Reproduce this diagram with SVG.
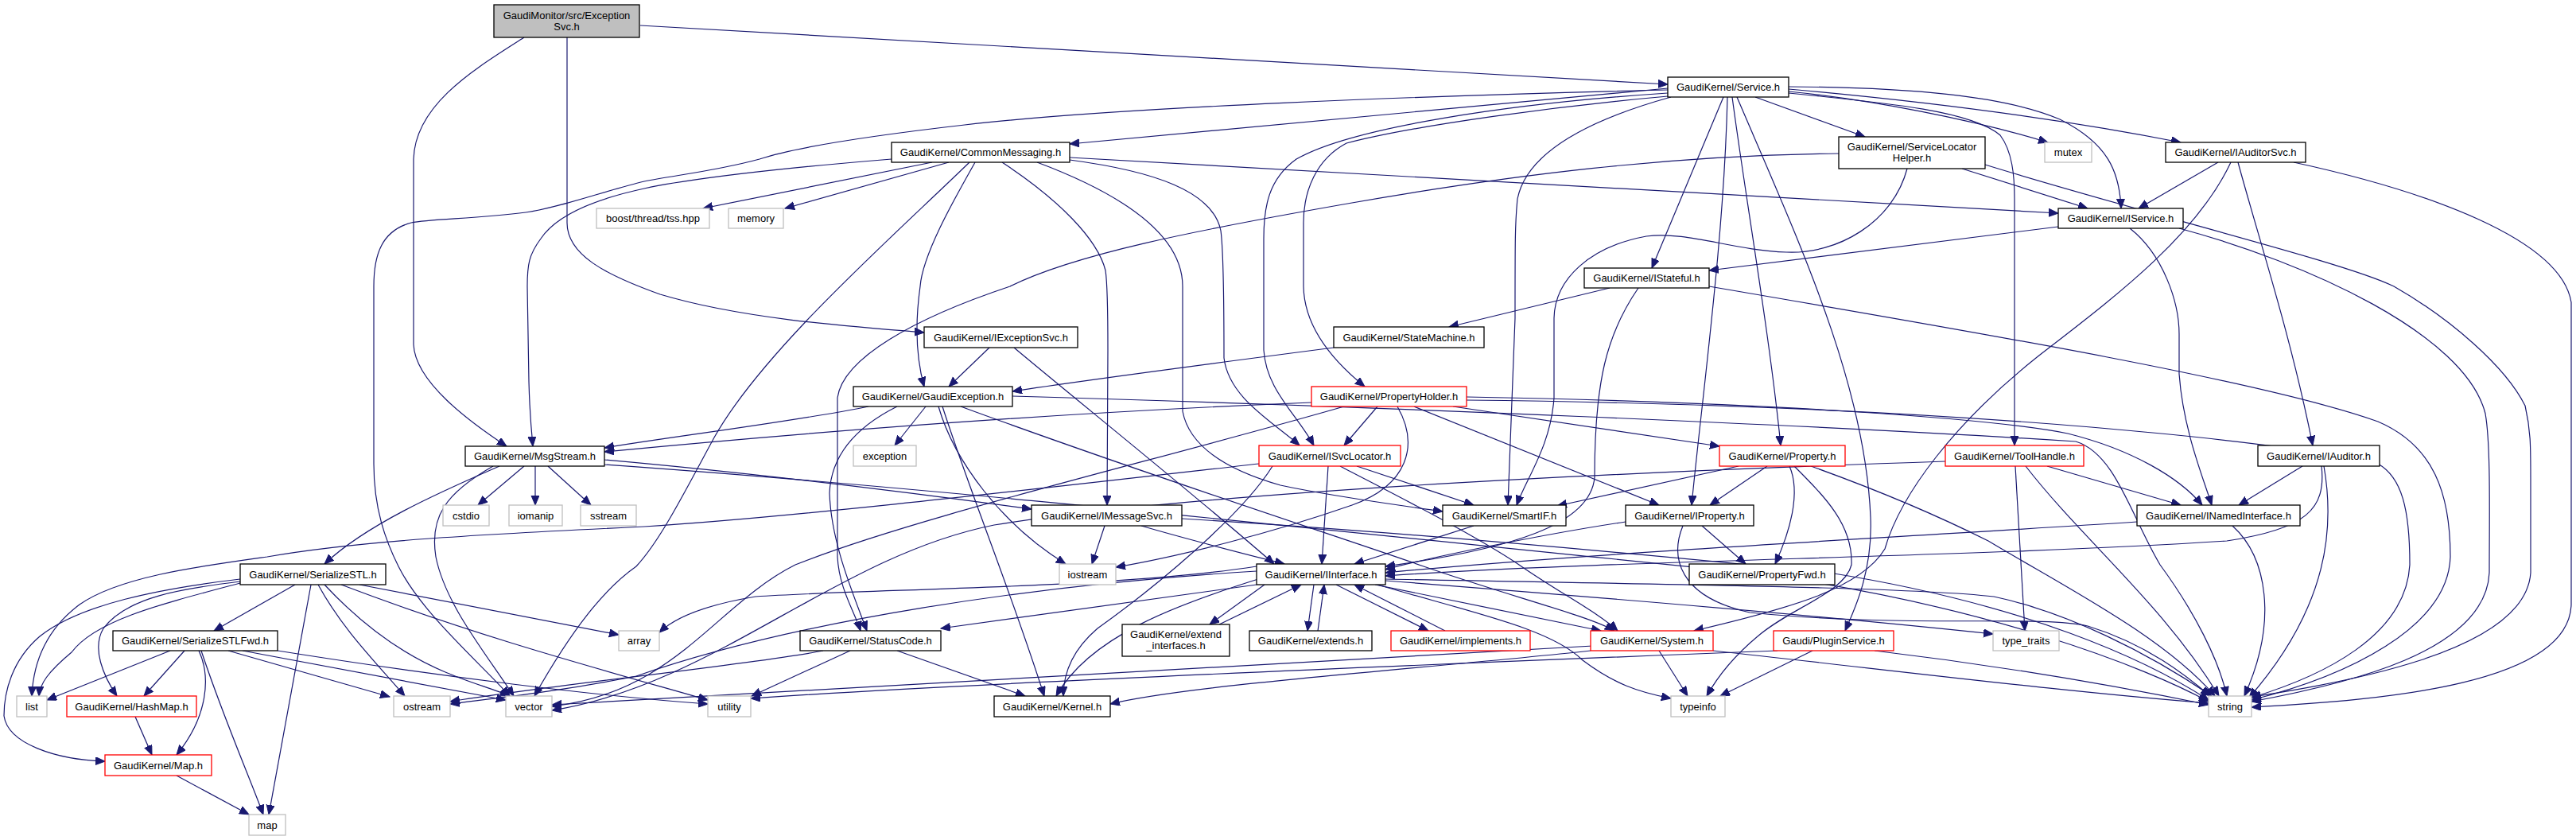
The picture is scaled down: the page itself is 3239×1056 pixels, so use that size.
<svg xmlns="http://www.w3.org/2000/svg" width="3239" height="1056" viewBox="0 0 3239 1056">
<style>
rect{fill:#fff;stroke:#000;stroke-width:1.3}
.r rect{stroke:#ff0000}
.g rect{stroke:#bfbfbf}
.m rect{fill:#bfbfbf}
text{font-family:"Liberation Sans",Arial,sans-serif;font-size:13px;text-anchor:middle;fill:#000}
#edges path{fill:none;stroke:#191970;stroke-width:1.2;marker-end:url(#a)}
</style>
<defs>
<marker id="a" markerUnits="userSpaceOnUse" markerWidth="13" markerHeight="11" refX="12" refY="5" orient="auto"><path d="M0,0 L12,5 L0,10 z" fill="#191970" stroke="#191970" stroke-width="1"/></marker>
</defs>
<rect x="0" y="0" width="3239" height="1056" style="fill:#fff;stroke:none"/>
<g id="edges">
<path d="M805,32 L2097,106"/>
<path d="M713,47 L713,280 C713,320 760,345 830,370 C930,400 1060,410 1162,418"/>
<path d="M659,47 C600,85 522,130 520,200 L520,433 C522,480 590,530 637,561"/>
<path d="M2097,111 L1345,181"/>
<path d="M2097,113 C1800,120 1400,135 1213,157 C1100,170 1000,185 955,200 C900,215 850,220 810,228 C760,240 700,262 661,267 C600,275 540,275 517,280 C480,290 470,320 470,360 L470,583 C470,640 485,680 501,712 C530,770 600,830 641,875"/>
<path d="M2167,122 L2077,337"/>
<path d="M2207,122 L2345,172"/>
<path d="M2249,115 C2350,125 2480,150 2575,179"/>
<path d="M2249,112 C2450,130 2620,155 2742,179"/>
<path d="M2249,109 C2400,110 2520,120 2590,150 C2650,180 2665,215 2667,262"/>
<path d="M2249,117 C2380,130 2480,140 2515,170 C2530,190 2533,220 2533,250 L2533,560"/>
<path d="M2097,117 C1900,130 1700,160 1630,200 C1595,225 1589,260 1589,300 L1589,440 C1592,490 1630,520 1652,560"/>
<path d="M2097,121 C1962,133 1781,157 1693,180 C1655,200 1639,240 1639,280 L1639,360 C1640,420 1690,465 1716,486"/>
<path d="M2101,122 C2000,150 1920,190 1908,250 C1905,280 1905,300 1905,400 L1896,635"/>
<path d="M2172,122 C2168,300 2140,500 2127,635"/>
<path d="M2178,122 C2195,250 2225,420 2239,560"/>
<path d="M2184,122 C2260,300 2345,480 2352,650 C2355,720 2330,770 2320,793"/>
<path d="M1121,200 C1000,210 880,222 810,237 C750,250 700,270 680,300 C665,320 663,333 663,360 L665,480 C666,520 668,540 670,561"/>
<path d="M1172,204 L884,262"/>
<path d="M1193,204 L987,262"/>
<path d="M1219,204 C1120,300 960,440 898,550 C860,620 830,680 800,712 C760,740 720,790 672,875"/>
<path d="M1226,204 C1200,250 1160,320 1157,360 C1150,410 1152,450 1162,486"/>
<path d="M1260,204 C1330,250 1380,300 1390,340 C1393,360 1393,400 1393,440 L1392,635"/>
<path d="M1345,198 L2588,268"/>
<path d="M1304,204 C1400,240 1487,290 1487,360 L1487,517 C1495,560 1540,590 1610,610 C1680,625 1760,635 1814,643"/>
<path d="M1345,201 C1450,215 1525,240 1535,290 C1539,320 1539,400 1539,450 C1545,500 1600,530 1634,560"/>
<path d="M2467,212 L2625,262"/>
<path d="M2398,212 C2380,280 2310,320 2246,317 C2180,315 2120,290 2070,297 C2000,310 1955,350 1954,400 L1954,500 C1950,560 1920,600 1907,635"/>
<path d="M2496,207 C2700,270 2950,330 3010,360 C3080,400 3150,460 3175,510 C3182,540 3182,560 3182,600 L3182,720 C3175,820 2950,860 2777,884"/>
<path d="M2312,193 C2100,195 1900,220 1700,255 C1500,290 1350,320 1270,360 C1150,400 1060,450 1053,500 L1053,700 C1055,740 1075,770 1082,793"/>
<path d="M2789,204 L2689,262"/>
<path d="M2805,204 C2760,300 2650,380 2560,450 C2460,530 2390,620 2370,690 C2340,740 2250,765 2130,793"/>
<path d="M2814,204 C2840,300 2880,420 2908,560"/>
<path d="M2884,204 C3050,240 3220,300 3233,380 L3233,760 C3230,860 3000,880 2831,889"/>
<path d="M2588,285 L2149,340"/>
<path d="M2678,287 C2720,320 2740,380 2740,420 L2740,470 C2745,540 2770,600 2781,635"/>
<path d="M2740,287 C2900,330 3100,420 3125,520 C3132,560 3130,650 3130,720 C3125,820 2950,860 2831,882"/>
<path d="M2024,362 L1822,411"/>
<path d="M2060,362 C2020,420 2005,480 2005,600 C2000,660 1900,690 1742,712"/>
<path d="M2149,360 C2500,420 2850,480 2990,530 C3060,560 3081,620 3081,700 C3078,790 2950,850 2831,880"/>
<path d="M1677,437 C1500,460 1350,480 1273,492"/>
<path d="M1244,437 L1193,486"/>
<path d="M1275,437 C1350,500 1500,620 1602,709"/>
<path d="M1092,511 C1000,530 850,548 760,563"/>
<path d="M1128,511 C1080,535 1045,570 1043,620 C1045,680 1070,740 1090,793"/>
<path d="M1164,511 L1125,560"/>
<path d="M1180,511 C1200,580 1260,660 1340,709"/>
<path d="M1185,511 C1220,620 1270,740 1313,875"/>
<path d="M1208,511 C1450,600 1700,680 1790,712 C1900,750 2000,775 2030,793"/>
<path d="M1273,498 C1700,510 2300,535 2610,555 C2660,570 2680,650 2716,710 C2760,770 2790,830 2800,875"/>
<path d="M1649,506 C1300,520 1000,545 760,568"/>
<path d="M1732,511 L1690,560"/>
<path d="M1778,511 L2086,635"/>
<path d="M1827,511 L2162,561"/>
<path d="M1844,499 C2200,505 2500,525 2600,545 C2680,565 2740,600 2769,635"/>
<path d="M1844,503 C2500,510 2900,560 2990,583 C3020,600 3030,640 3030,710 C3025,800 2920,850 2831,877"/>
<path d="M1757,511 C1785,560 1770,610 1700,635 C1600,670 1480,700 1403,713"/>
<path d="M1690,511 C1450,580 1150,650 1000,710 C900,760 850,870 694,888"/>
<path d="M1670,586 L1662,709"/>
<path d="M1706,586 L1853,635"/>
<path d="M1583,583 C1300,615 1000,650 810,662 C600,672 450,680 336,700 C250,712 150,725 100,760 C60,790 42,830 40,875"/>
<path d="M1685,586 C1750,620 1850,670 1910,710 C1960,745 2010,770 2034,793"/>
<path d="M1600,586 C1560,650 1450,740 1380,790 C1345,820 1337,850 1337,875"/>
<path d="M2186,586 L1958,636"/>
<path d="M2222,586 L2150,635"/>
<path d="M2250,586 C2265,620 2250,670 2232,709"/>
<path d="M2256,586 C2295,625 2330,660 2328,710 C2320,745 2250,765 2210,800 C2180,825 2160,850 2146,875"/>
<path d="M2277,586 C2330,605 2420,640 2500,680 C2600,740 2720,800 2785,875"/>
<path d="M2140,661 L2195,709"/>
<path d="M2044,656 C1950,670 1800,700 1742,716"/>
<path d="M2116,661 C2100,700 2110,750 2200,770 C2400,790 2560,773 2625,787 C2700,810 2750,850 2779,875"/>
<path d="M2687,656 C2400,675 2000,695 1742,720"/>
<path d="M2807,661 C2850,700 2865,780 2822,875"/>
<path d="M2895,586 L2815,635"/>
<path d="M2919,586 C2925,640 2900,665 2800,680 C2500,700 2000,705 1742,724"/>
<path d="M2922,586 C2935,660 2930,760 2828,877"/>
<path d="M2574,586 L2742,635"/>
<path d="M2534,586 L2546,793"/>
<path d="M2547,586 C2620,680 2720,760 2790,875"/>
<path d="M2446,580 C2000,595 1500,620 1250,660 C1050,700 900,860 694,893"/>
<path d="M1389,661 L1373,709"/>
<path d="M1435,661 C1500,680 1560,695 1615,709"/>
<path d="M1486,652 C1700,665 2000,690 2300,720 C2550,760 2700,830 2777,880"/>
<path d="M628,586 C550,620 460,660 408,709"/>
<path d="M659,586 L601,635"/>
<path d="M673,586 L673,635"/>
<path d="M689,586 L743,635"/>
<path d="M620,586 C560,620 540,650 548,700 C560,760 610,820 646,875"/>
<path d="M760,578 C950,595 1150,620 1297,640"/>
<path d="M760,584 C1200,615 1700,670 2200,720 C2500,760 2700,840 2777,882"/>
<path d="M371,735 L269,793"/>
<path d="M302,733 C200,760 120,780 90,820 C60,845 50,860 49,875"/>
<path d="M302,731 C230,740 160,750 130,790 C115,815 130,850 147,875"/>
<path d="M302,728 C200,740 100,760 50,800 C15,830 5,870 5,900 C10,935 70,955 132,957"/>
<path d="M391,735 L338,1024"/>
<path d="M400,735 C430,790 470,830 509,875"/>
<path d="M408,735 C450,780 500,820 560,845 C590,858 620,866 641,875"/>
<path d="M429,735 C600,800 750,840 890,880"/>
<path d="M452,735 L778,798"/>
<path d="M214,818 L59,880"/>
<path d="M232,818 L181,875"/>
<path d="M250,818 C265,850 262,900 222,949"/>
<path d="M253,818 C280,900 315,980 331,1024"/>
<path d="M287,818 L490,876"/>
<path d="M305,818 L636,880"/>
<path d="M349,818 C550,850 750,875 890,885"/>
<path d="M170,901 L191,949"/>
<path d="M222,975 L313,1024"/>
<path d="M1035,818 C950,835 700,860 566,882"/>
<path d="M1069,818 L945,875"/>
<path d="M1128,818 L1289,875"/>
<path d="M1580,735 L1183,790"/>
<path d="M1590,735 L1521,785"/>
<path d="M1533,785 L1636,735"/>
<path d="M1652,735 L1644,793"/>
<path d="M1657,793 L1665,735"/>
<path d="M1680,735 L1796,793"/>
<path d="M1817,793 L1703,735"/>
<path d="M1729,735 L2013,793"/>
<path d="M1732,735 C1850,770 1950,790 1990,830 C2030,860 2060,870 2101,878"/>
<path d="M1742,730 C2000,750 2300,775 2506,797"/>
<path d="M1742,728 C2100,735 2400,738 2507,750 C2600,770 2700,820 2781,875"/>
<path d="M1582,728 C1480,760 1370,800 1328,875"/>
<path d="M1580,718 C1300,735 1000,780 800,850 C700,870 620,878 566,885"/>
<path d="M1580,712 C1400,740 1100,740 950,750 C890,760 850,775 829,795"/>
<path d="M2000,818 C1800,840 1500,860 1396,885"/>
<path d="M2003,812 C1500,840 1000,870 694,886"/>
<path d="M2086,818 L2122,875"/>
<path d="M2154,818 C2400,845 2600,870 2777,884"/>
<path d="M2279,818 L2163,875"/>
<path d="M2357,818 C2500,835 2650,860 2777,886"/>
<path d="M2235,818 C1800,835 1200,860 944,878"/>
<path d="M1853,661 L1703,709"/>
</g>
<g id="n_main" class="m"><rect x="621" y="6" width="183" height="41"/><text x="712.5" y="23.5">GaudiMonitor/src/Exception</text><text x="712.5" y="37.5">Svc.h</text></g>
<g id="n_service"><rect x="2097" y="97" width="152" height="25"/><text x="2173" y="114">GaudiKernel/Service.h</text></g>
<g id="n_commonmessaging"><rect x="1121" y="179" width="224" height="25"/><text x="1233" y="196">GaudiKernel/CommonMessaging.h</text></g>
<g id="n_tss" class="g"><rect x="750" y="262" width="142" height="25"/><text x="821" y="279">boost/thread/tss.hpp</text></g>
<g id="n_memory" class="g"><rect x="916" y="262" width="69" height="25"/><text x="950.5" y="279">memory</text></g>
<g id="n_servicelocatorhelper"><rect x="2312" y="172" width="184" height="40"/><text x="2404" y="189">GaudiKernel/ServiceLocator</text><text x="2404" y="203">Helper.h</text></g>
<g id="n_mutex" class="g"><rect x="2571" y="179" width="59" height="25"/><text x="2600.5" y="196">mutex</text></g>
<g id="n_iauditorsvc"><rect x="2723" y="179" width="176" height="25"/><text x="2811" y="196">GaudiKernel/IAuditorSvc.h</text></g>
<g id="n_iservice"><rect x="2588" y="262" width="157" height="25"/><text x="2666.5" y="279">GaudiKernel/IService.h</text></g>
<g id="n_istateful"><rect x="1992" y="337" width="157" height="25"/><text x="2070.5" y="354">GaudiKernel/IStateful.h</text></g>
<g id="n_statemachine"><rect x="1677" y="411" width="189" height="26"/><text x="1771.5" y="428.5">GaudiKernel/StateMachine.h</text></g>
<g id="n_iexceptionsvc"><rect x="1162" y="411" width="193" height="26"/><text x="1258.5" y="428.5">GaudiKernel/IExceptionSvc.h</text></g>
<g id="n_gaudiexception"><rect x="1073" y="486" width="200" height="25"/><text x="1173" y="503">GaudiKernel/GaudiException.h</text></g>
<g id="n_propertyholder" class="r"><rect x="1649" y="486" width="195" height="25"/><text x="1746.5" y="503">GaudiKernel/PropertyHolder.h</text></g>
<g id="n_exception" class="g"><rect x="1073" y="560" width="79" height="26"/><text x="1112.5" y="577.5">exception</text></g>
<g id="n_isvclocator" class="r"><rect x="1583" y="560" width="178" height="26"/><text x="1672" y="577.5">GaudiKernel/ISvcLocator.h</text></g>
<g id="n_property" class="r"><rect x="2162" y="560" width="158" height="26"/><text x="2241" y="577.5">GaudiKernel/Property.h</text></g>
<g id="n_toolhandle" class="r"><rect x="2446" y="560" width="174" height="26"/><text x="2533" y="577.5">GaudiKernel/ToolHandle.h</text></g>
<g id="n_iauditor"><rect x="2839" y="560" width="153" height="26"/><text x="2915.5" y="577.5">GaudiKernel/IAuditor.h</text></g>
<g id="n_msgstream"><rect x="585" y="561" width="175" height="25"/><text x="672.5" y="578">GaudiKernel/MsgStream.h</text></g>
<g id="n_cstdio" class="g"><rect x="557" y="635" width="58" height="26"/><text x="586" y="652.5">cstdio</text></g>
<g id="n_iomanip" class="g"><rect x="640" y="635" width="67" height="26"/><text x="673.5" y="652.5">iomanip</text></g>
<g id="n_sstream" class="g"><rect x="730" y="635" width="70" height="26"/><text x="765" y="652.5">sstream</text></g>
<g id="n_imessagesvc"><rect x="1297" y="635" width="189" height="26"/><text x="1391.5" y="652.5">GaudiKernel/IMessageSvc.h</text></g>
<g id="n_smartif"><rect x="1814" y="635" width="155" height="26"/><text x="1891.5" y="652.5">GaudiKernel/SmartIF.h</text></g>
<g id="n_iproperty"><rect x="2044" y="635" width="161" height="26"/><text x="2124.5" y="652.5">GaudiKernel/IProperty.h</text></g>
<g id="n_inamedinterface"><rect x="2687" y="635" width="205" height="26"/><text x="2789.5" y="652.5">GaudiKernel/INamedInterface.h</text></g>
<g id="n_serializestl"><rect x="302" y="709" width="183" height="26"/><text x="393.5" y="726.5">GaudiKernel/SerializeSTL.h</text></g>
<g id="n_iostream" class="g"><rect x="1332" y="709" width="71" height="26"/><text x="1367.5" y="726.5">iostream</text></g>
<g id="n_iinterface"><rect x="1580" y="709" width="162" height="26"/><text x="1661" y="726.5">GaudiKernel/IInterface.h</text></g>
<g id="n_propertyfwd"><rect x="2124" y="709" width="183" height="26"/><text x="2215.5" y="726.5">GaudiKernel/PropertyFwd.h</text></g>
<g id="n_serializestlfwd"><rect x="142" y="793" width="207" height="25"/><text x="245.5" y="810">GaudiKernel/SerializeSTLFwd.h</text></g>
<g id="n_array" class="g"><rect x="778" y="793" width="51" height="25"/><text x="803.5" y="810">array</text></g>
<g id="n_statuscode"><rect x="1006" y="793" width="177" height="25"/><text x="1094.5" y="810">GaudiKernel/StatusCode.h</text></g>
<g id="n_extend_interfaces"><rect x="1411" y="785" width="135" height="40"/><text x="1478.5" y="802">GaudiKernel/extend</text><text x="1478.5" y="816">_interfaces.h</text></g>
<g id="n_extends"><rect x="1571" y="793" width="154" height="25"/><text x="1648" y="810">GaudiKernel/extends.h</text></g>
<g id="n_implements" class="r"><rect x="1749" y="793" width="175" height="25"/><text x="1836.5" y="810">GaudiKernel/implements.h</text></g>
<g id="n_system" class="r"><rect x="2000" y="793" width="154" height="25"/><text x="2077" y="810">GaudiKernel/System.h</text></g>
<g id="n_pluginservice" class="r"><rect x="2230" y="793" width="151" height="25"/><text x="2305.5" y="810">Gaudi/PluginService.h</text></g>
<g id="n_type_traits" class="g"><rect x="2506" y="793" width="83" height="25"/><text x="2547.5" y="810">type_traits</text></g>
<g id="n_list" class="g"><rect x="21" y="875" width="38" height="26"/><text x="40" y="892.5">list</text></g>
<g id="n_hashmap" class="r"><rect x="84" y="875" width="163" height="26"/><text x="165.5" y="892.5">GaudiKernel/HashMap.h</text></g>
<g id="n_ostream" class="g"><rect x="495" y="875" width="71" height="26"/><text x="530.5" y="892.5">ostream</text></g>
<g id="n_vector" class="g"><rect x="636" y="875" width="58" height="26"/><text x="665" y="892.5">vector</text></g>
<g id="n_utility" class="g"><rect x="890" y="875" width="54" height="26"/><text x="917" y="892.5">utility</text></g>
<g id="n_kernel"><rect x="1250" y="875" width="146" height="26"/><text x="1323" y="892.5">GaudiKernel/Kernel.h</text></g>
<g id="n_typeinfo" class="g"><rect x="2101" y="875" width="68" height="26"/><text x="2135" y="892.5">typeinfo</text></g>
<g id="n_string" class="g"><rect x="2777" y="875" width="54" height="26"/><text x="2804" y="892.5">string</text></g>
<g id="n_map_h" class="r"><rect x="132" y="949" width="134" height="26"/><text x="199" y="966.5">GaudiKernel/Map.h</text></g>
<g id="n_map" class="g"><rect x="313" y="1024" width="46" height="26"/><text x="336" y="1041.5">map</text></g>
</svg>
